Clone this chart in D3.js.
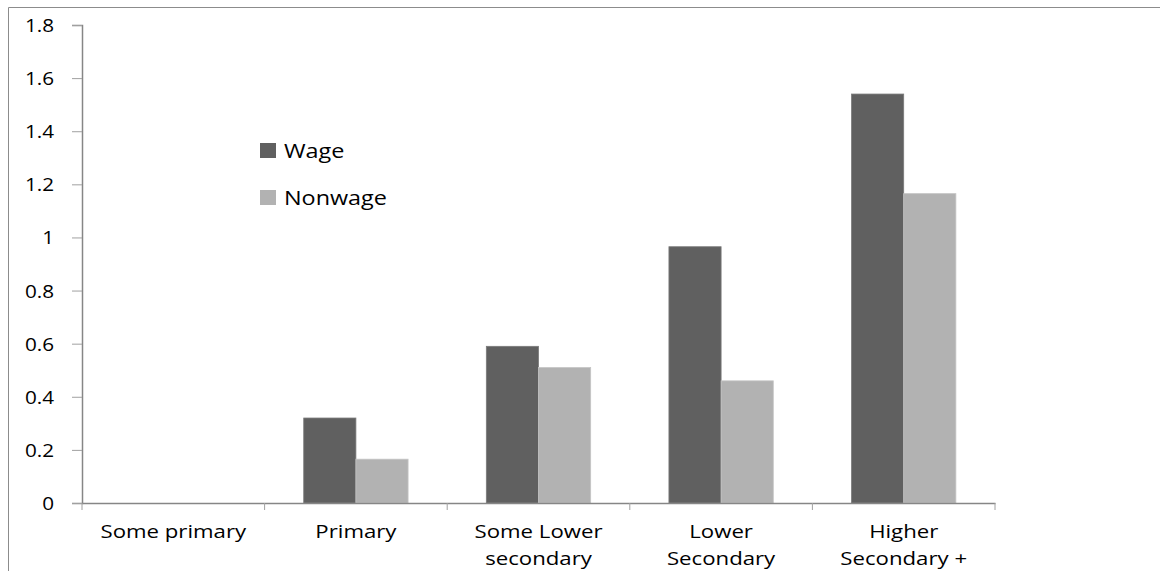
<!DOCTYPE html>
<html lang="en">
<head>
<meta charset="UTF-8">
<title>Wage vs Nonwage by education</title>
<style>
    body { margin: 0; background: #fff; }
    text { font-family: "Open Sans", sans-serif; fill: #000; }
</style>
</head>
<body>
<svg id="chart" width="1160" height="571"></svg>
<script src="https://d3js.org/d3.v7.min.js"></script>
<script>
const categories = ["Some primary", "Primary", "Some Lower secondary", "Lower Secondary", "Higher Secondary +"];
const categoryLines = [["Some primary"], ["Primary"], ["Some Lower", "secondary"], ["Lower", "Secondary"], ["Higher", "Secondary +"]];
const seriesNames = ["Wage", "Nonwage"];
const wage = [0, 0.32, 0.59, 0.965, 1.54];
const nonwage = [0, 0.165, 0.51, 0.46, 1.165];
const yTicks = [0, 0.2, 0.4, 0.6, 0.8, 1, 1.2, 1.4, 1.6, 1.8];

const colors = { Wage: "#606060", Nonwage: "#b2b2b2" };
const stretch = 1.2; // text in the picture is drawn wide

const svg = d3.select("#chart");

// frame of the chart area
svg.append("path")
    .attr("d", "M8.5,571 V7.5 H1160")
    .attr("fill", "none")
    .attr("stroke", "#8c8c8c")
    .attr("stroke-width", 1);

const x0 = d3.scaleBand().domain(categories).range([82, 995]).paddingInner(0).paddingOuter(0);
const bw = x0.bandwidth() / 3.5;
const x1 = d3.scaleBand().domain(seriesNames).range([x0.bandwidth() / 2 - bw, x0.bandwidth() / 2 + bw]);
const y = d3.scaleLinear().domain([0, 1.8]).range([503, 25]);

const rows = categories.map((c, i) => ({ cat: c, Wage: wage[i], Nonwage: nonwage[i] }));

// bars
svg.append("g").selectAll("g")
    .data(rows)
    .join("g")
    .attr("transform", d => `translate(${x0(d.cat)},0)`)
    .selectAll("rect")
    .data(d => seriesNames.map(s => ({ s, v: d[s] })))
    .join("rect")
    .attr("x", d => x1(d.s))
    .attr("width", x1.bandwidth())
    .attr("y", d => y(d.v))
    .attr("height", d => y(0) - y(d.v))
    .attr("fill", d => colors[d.s])
    .attr("stroke", d => d.s === "Wage" ? "#7a7a7a" : "#c4c4c4")
    .attr("stroke-width", d => d.v > 0 ? 0.8 : 0);

// y axis
const yAxis = svg.append("g")
    .attr("transform", "translate(82,0)")
    .call(d3.axisLeft(y).tickValues(yTicks).tickSize(10).tickFormat(d3.format("")));
yAxis.select(".domain").attr("stroke", "#868686").attr("stroke-width", 1.5);
yAxis.selectAll(".tick line").attr("stroke", "#a0a0a0");
yAxis.selectAll(".tick text").remove();
yAxis.selectAll(".tick").append("text")
    .attr("text-anchor", "end")
    .attr("transform", `translate(-28,6.5) scale(1.15,1)`)
    .attr("font-size", 18)
    .text(d => d3.format("")(d));

// x axis
const xAxis = svg.append("g")
    .attr("transform", "translate(0,503)")
    .call(d3.axisBottom(x0).tickSize(0).tickFormat(""));
xAxis.select(".domain").attr("stroke", "#868686").attr("stroke-width", 1.5);
const boundaries = categories.map(c => x0(c)).concat([x0.range()[1]]);
xAxis.selectAll(".sep")
    .data(boundaries)
    .join("line")
    .attr("class", "sep")
    .attr("x1", d => d).attr("x2", d => d)
    .attr("y1", 0).attr("y2", 7)
    .attr("stroke", "#a0a0a0");

// category labels
svg.append("g").selectAll("g")
    .data(categories)
    .join("g")
    .attr("transform", c => `translate(${x0(c) + x0.bandwidth() / 2},0)`)
    .each(function(c, i) {
        d3.select(this).selectAll("text")
            .data(categoryLines[i])
            .join("text")
            .attr("text-anchor", "middle")
            .attr("font-size", 18.5)
            .attr("transform", (t, j) => `translate(0,${538 + j * 27}) scale(${stretch},1)`)
            .text(t => t);
    });

// legend
const legend = svg.append("g").selectAll("g")
    .data(seriesNames)
    .join("g")
    .attr("transform", (d, i) => `translate(260,${143 + i * 47})`);
legend.append("rect")
    .attr("width", 16).attr("height", 15)
    .attr("fill", d => colors[d]);
legend.append("text")
    .attr("font-size", 19.5)
    .attr("transform", `translate(24,14.5) scale(${stretch},1)`)
    .text(d => d);
</script>
</body>
</html>
